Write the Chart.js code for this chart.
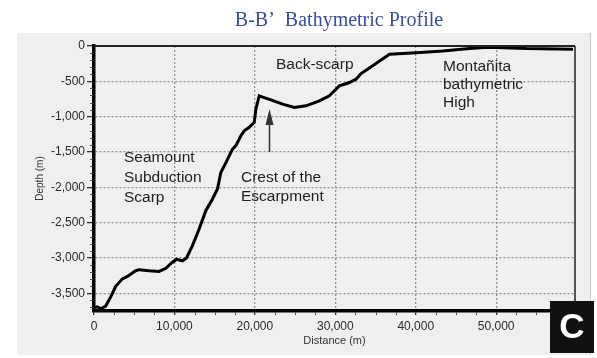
<!DOCTYPE html>
<html>
<head>
<meta charset="utf-8">
<script src="https://cdn.jsdelivr.net/npm/chart.js@4.4.1/dist/chart.umd.min.js"></script>
<style>
  html, body { margin: 0; padding: 0; background: #fff; }
  #wrap { position: relative; width: 597px; height: 358px; }
</style>
</head>
<body>
<div id="wrap"><canvas id="profile" width="597" height="358"></canvas></div>
<script>
// distance along profile (m) and depth (m)
const distance = [0, 400, 830, 1450, 2080, 2700, 3530, 4150, 5190, 5600, 6850, 8090, 8930, 9750, 10250, 11000, 11500,
    12240, 13070, 13900, 14730, 15350, 15770, 16400, 17220, 17640, 18260, 18680, 19300, 19920, 20130, 20540,
    21160, 21990, 23450, 24900, 26360, 28010, 29260, 29670, 30500, 31120, 31750, 32580, 33200, 34240, 36730,
    40050, 43370, 46690, 48500, 50000, 53750, 59550];
const depth = [-3700, -3690, -3720, -3680, -3550, -3400, -3295, -3260, -3180, -3165, -3180, -3190, -3145, -3060, -3020, -3040, -3000,
    -2825, -2590, -2330, -2165, -2023, -1790, -1650, -1460, -1410, -1270, -1200, -1150, -1080, -890, -706,
    -730, -762, -823, -870, -847, -776, -706, -658, -565, -541, -517, -470, -390, -310, -117,
    -94, -71, -37, -20, -20, -37, -45];

const xTicks = [0, 10000, 20000, 30000, 40000, 50000];
const yTicks = [0, -500, -1000, -1500, -2000, -2500, -3000, -3500];

const sans = '"Liberation Sans", Arial, sans-serif';
const labelFont = '15.5px ' + sans;

// background panel, title, frame, minor ticks, notes and the "C" tag
const decorations = {
    id: 'decorations',
    beforeDraw(chart) {
        const ctx = chart.ctx;
        ctx.save();
        ctx.fillStyle = '#ffffff';
        ctx.fillRect(0, 0, chart.width, chart.height);
        ctx.fillStyle = '#efefef';
        ctx.fillRect(17, 33, 573, 322);
        ctx.strokeStyle = '#c8c8c8';
        ctx.lineWidth = 1;
        ctx.beginPath();
        ctx.moveTo(590.5, 33);
        ctx.lineTo(590.5, 355);
        ctx.stroke();

        ctx.fillStyle = '#3b4e9c';
        ctx.font = '20px "Liberation Serif", "Times New Roman", serif';
        ctx.textAlign = 'center';
        ctx.textBaseline = 'alphabetic';
        ctx.fillText('B-B\u2019  Bathymetric Profile', 339, 26);
        ctx.restore();
    },
    afterDraw(chart) {
        const ctx = chart.ctx;
        const a = chart.chartArea;
        const xs = chart.scales.x, ys = chart.scales.y;
        ctx.save();

        // top and right frame
        ctx.strokeStyle = '#222';
        ctx.lineWidth = 2;
        ctx.beginPath();
        ctx.moveTo(a.left, a.top);
        ctx.lineTo(a.right, a.top);
        ctx.stroke();
        ctx.lineWidth = 1.5;
        ctx.beginPath();
        ctx.moveTo(a.right, a.top);
        ctx.lineTo(a.right, a.bottom);
        ctx.stroke();

        // minor ticks
        ctx.strokeStyle = '#555';
        ctx.lineWidth = 1;
        for (let v = 2500; v < xs.max; v += 2500) {
            if (v % 10000 === 0) continue;
            const px = Math.round(xs.getPixelForValue(v)) + 0.5;
            ctx.beginPath();
            ctx.moveTo(px, a.bottom + 1);
            ctx.lineTo(px, a.bottom + 4);
            ctx.stroke();
        }
        for (let v = -100; v > ys.min; v -= 100) {
            if (v % 500 === 0) continue;
            const py = Math.round(ys.getPixelForValue(v)) + 0.5;
            ctx.beginPath();
            ctx.moveTo(a.left - 4, py);
            ctx.lineTo(a.left - 1, py);
            ctx.stroke();
        }

        // notes
        ctx.fillStyle = '#1e1e1e';
        ctx.font = labelFont;
        ctx.textAlign = 'left';
        ctx.textBaseline = 'middle';
        const notes = [
            ['Seamount', 124, 158], ['Subduction', 124, 178], ['Scarp', 124, 198],
            ['Crest of the', 241, 178], ['Escarpment', 241, 197],
            ['Back-scarp', 276, 65],
            ['Monta\u00f1ita', 443, 67], ['bathymetric', 443, 85], ['High', 443, 103]
        ];
        notes.forEach(n => ctx.fillText(n[0], n[1], n[2]));

        // arrow to the crest
        ctx.strokeStyle = '#333';
        ctx.fillStyle = '#333';
        ctx.lineWidth = 1.5;
        ctx.beginPath();
        ctx.moveTo(269.5, 152);
        ctx.lineTo(269.5, 122);
        ctx.stroke();
        ctx.beginPath();
        ctx.moveTo(269.5, 109);
        ctx.lineTo(265.5, 125);
        ctx.lineTo(273.5, 125);
        ctx.closePath();
        ctx.fill();

        // panel tag
        ctx.fillStyle = '#111';
        ctx.fillRect(550, 301, 44, 52);
        ctx.fillStyle = '#fff';
        ctx.font = 'bold 35px ' + sans;
        ctx.textAlign = 'center';
        ctx.textBaseline = 'middle';
        ctx.fillText('C', 572, 328);
        ctx.restore();
    }
};

new Chart(document.getElementById('profile'), {
    type: 'line',
    data: {
        labels: distance,
        datasets: [{
            data: distance.map((d, i) => ({ x: d, y: depth[i] })),
            borderColor: '#000',
            borderWidth: 3,
            pointRadius: 0,
            tension: 0,
            fill: false
        }]
    },
    options: {
        responsive: false,
        animation: false,
        layout: { padding: { left: 0, top: 46, right: 22, bottom: 0 } },
        plugins: {
            legend: { display: false },
            tooltip: { enabled: false }
        },
        scales: {
            x: {
                type: 'linear',
                min: 0,
                max: 59800,
                afterFit: s => { s.height = 47; },
                afterBuildTicks: s => { s.ticks = xTicks.map(v => ({ value: v })); },
                grid: {
                    color: '#8f8f8f',
                    lineWidth: 1.3,
                    tickLength: 4,
                    tickColor: '#333',
                    tickBorderDash: []
                },
                border: { display: true, color: '#000', width: 3.5, dash: [2, 2] },
                ticks: {
                    color: '#2a2a2a',
                    font: { family: sans, size: 12 },
                    padding: 4,
                    maxRotation: 0,
                    callback: v => v.toLocaleString('en-US')
                },
                title: {
                    display: true,
                    text: 'Distance (m)',
                    color: '#333',
                    font: { family: sans, size: 11 },
                    padding: { top: 0, bottom: 10 }
                }
            },
            y: {
                type: 'linear',
                min: -3750,
                max: 0,
                afterFit: s => { s.width = 94; },
                afterBuildTicks: s => { s.ticks = yTicks.map(v => ({ value: v })); },
                grid: {
                    color: '#8f8f8f',
                    lineWidth: 1.3,
                    tickLength: 7,
                    tickColor: '#333',
                    tickBorderDash: []
                },
                border: { display: true, color: '#000', width: 3.5, dash: [2, 2] },
                ticks: {
                    color: '#2a2a2a',
                    font: { family: sans, size: 12 },
                    padding: 2,
                    callback: v => v.toLocaleString('en-US')
                },
                title: {
                    display: true,
                    text: 'Depth (m)',
                    color: '#333',
                    font: { family: sans, size: 10 },
                    padding: { top: 34, bottom: 0 }
                }
            }
        }
    },
    plugins: [decorations]
});
</script>
</body>
</html>
